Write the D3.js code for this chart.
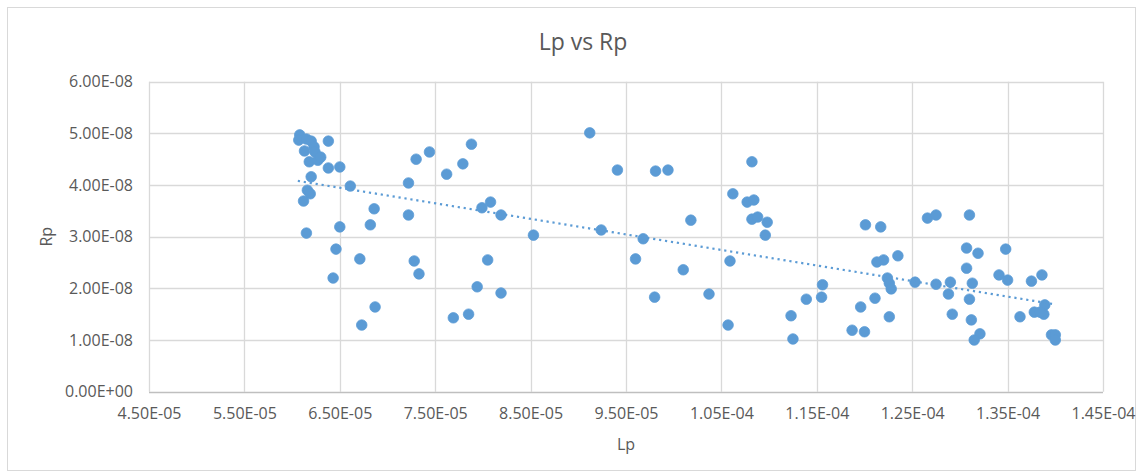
<!DOCTYPE html>
<html>
<head>
<meta charset="utf-8">
<script src="https://cdn.jsdelivr.net/npm/d3@7"></script>
<style>
  html, body { margin: 0; padding: 0; background: #fff; }
  svg { display: block; font-family: "Open Sans", "Liberation Sans", sans-serif; }
</style>
</head>
<body>
<svg id="chart" width="1143" height="474"></svg>
<script>
// Lp (H) measurements
const lp = [
  6.08e-5, 6.07e-5, 6.15e-5, 6.20e-5, 6.23e-5, 6.13e-5, 6.24e-5, 6.18e-5, 6.27e-5, 6.30e-5,
  6.38e-5, 6.38e-5, 6.50e-5, 6.20e-5, 6.61e-5, 6.16e-5, 6.19e-5, 6.12e-5, 6.15e-5, 6.50e-5,
  6.46e-5, 6.43e-5, 6.71e-5, 6.82e-5, 6.86e-5, 6.87e-5, 6.73e-5, 7.30e-5, 7.44e-5, 7.22e-5,
  7.22e-5, 7.28e-5, 7.33e-5, 7.62e-5, 7.79e-5, 7.88e-5, 7.99e-5, 8.08e-5, 8.19e-5, 8.05e-5,
  7.94e-5, 8.19e-5, 7.69e-5, 7.85e-5, 8.53e-5, 9.12e-5, 9.41e-5, 9.81e-5, 9.94e-5, 9.24e-5,
  9.68e-5, 9.60e-5, 10.18e-5, 10.10e-5, 9.80e-5, 10.37e-5, 10.57e-5, 10.59e-5, 10.62e-5, 10.82e-5,
  10.77e-5, 10.84e-5, 10.82e-5, 10.88e-5, 10.98e-5, 10.96e-5, 11.23e-5, 11.25e-5, 11.39e-5, 11.55e-5,
  11.56e-5, 12.01e-5, 12.17e-5, 11.96e-5, 11.87e-5, 12.00e-5, 12.11e-5, 12.13e-5, 12.20e-5, 12.35e-5,
  12.24e-5, 12.26e-5, 12.28e-5, 12.26e-5, 12.53e-5, 12.66e-5, 12.75e-5, 12.75e-5, 12.90e-5, 12.88e-5,
  12.92e-5, 13.07e-5, 13.19e-5, 13.07e-5, 13.13e-5, 13.10e-5, 13.12e-5, 13.21e-5, 13.15e-5, 13.10e-5,
  13.48e-5, 13.41e-5, 13.50e-5, 13.63e-5, 13.75e-5, 13.86e-5, 13.78e-5, 13.89e-5, 13.88e-5, 13.84e-5,
  13.96e-5, 14.00e-5, 14.00e-5
];

// Rp measurements, paired with lp by index
const rp = [
  4.97e-8, 4.87e-8, 4.89e-8, 4.85e-8, 4.74e-8, 4.66e-8, 4.64e-8, 4.45e-8, 4.48e-8, 4.54e-8,
  4.85e-8, 4.33e-8, 4.35e-8, 4.16e-8, 3.98e-8, 3.90e-8, 3.83e-8, 3.69e-8, 3.07e-8, 3.19e-8,
  2.76e-8, 2.20e-8, 2.57e-8, 3.23e-8, 3.54e-8, 1.64e-8, 1.29e-8, 4.50e-8, 4.64e-8, 4.04e-8,
  3.42e-8, 2.53e-8, 2.28e-8, 4.21e-8, 4.41e-8, 4.79e-8, 3.56e-8, 3.67e-8, 3.42e-8, 2.55e-8,
  2.03e-8, 1.91e-8, 1.43e-8, 1.50e-8, 3.03e-8, 5.01e-8, 4.29e-8, 4.27e-8, 4.29e-8, 3.13e-8,
  2.96e-8, 2.57e-8, 3.32e-8, 2.36e-8, 1.83e-8, 1.89e-8, 1.29e-8, 2.53e-8, 3.83e-8, 4.45e-8,
  3.67e-8, 3.71e-8, 3.34e-8, 3.38e-8, 3.28e-8, 3.03e-8, 1.47e-8, 1.02e-8, 1.79e-8, 1.83e-8,
  2.07e-8, 3.23e-8, 3.19e-8, 1.64e-8, 1.19e-8, 1.16e-8, 1.81e-8, 2.51e-8, 2.55e-8, 2.63e-8,
  2.20e-8, 2.10e-8, 1.99e-8, 1.45e-8, 2.12e-8, 3.36e-8, 3.42e-8, 2.08e-8, 2.12e-8, 1.89e-8,
  1.50e-8, 2.78e-8, 2.68e-8, 2.39e-8, 2.10e-8, 1.79e-8, 1.39e-8, 1.12e-8, 1.00e-8, 3.42e-8,
  2.76e-8, 2.26e-8, 2.16e-8, 1.45e-8, 2.14e-8, 2.26e-8, 1.54e-8, 1.68e-8, 1.50e-8, 1.54e-8,
  1.10e-8, 1.10e-8, 1.00e-8
];

// Linear trendline end points (Lp, Rp)
const trendLp = [6.06e-5, 1.40e-4];
const trendRp = [4.08e-8, 1.69e-8];

// Axis ticks
const xTicks = [4.5e-5, 5.5e-5, 6.5e-5, 7.5e-5, 8.5e-5, 9.5e-5, 1.05e-4, 1.15e-4, 1.25e-4, 1.35e-4, 1.45e-4];
const yTicks = [0, 1e-8, 2e-8, 3e-8, 4e-8, 5e-8, 6e-8];

const titleText = "Lp vs Rp";
const xTitle = "Lp";
const yTitle = "Rp";

// Spreadsheet-style scientific notation, e.g. 4.50E-05
function sci(v) {
  const [m, e] = v.toExponential(2).split("e");
  const n = parseInt(e, 10);
  const sign = n < 0 ? "-" : "+";
  return m + "E" + sign + String(Math.abs(n)).padStart(2, "0");
}

const svg = d3.select("#chart");
const W = 1143, H = 474;
const plot = { left: 149, right: 1103, top: 81.7, bottom: 391.7 };

const x = d3.scaleLinear().domain([xTicks[0], xTicks[xTicks.length - 1]]).range([plot.left, plot.right]);
const y = d3.scaleLinear().domain([yTicks[0], yTicks[yTicks.length - 1]]).range([plot.bottom, plot.top]);

const textColor = "#595959";
const gridColor = "#d9d9d9";
const blue = "#5b9bd5";

// Chart frame
svg.append("rect")
  .attr("x", 7.5).attr("y", 7.5)
  .attr("width", W - 15).attr("height", H - 11)
  .attr("fill", "#fff").attr("stroke", gridColor).attr("stroke-width", 1);

// Gridlines
const grid = svg.append("g");
grid.selectAll("line.v").data(xTicks).join("line")
  .attr("class", "v")
  .attr("x1", d => Math.round(x(d)) + 0.5).attr("x2", d => Math.round(x(d)) + 0.5)
  .attr("y1", plot.top).attr("y2", plot.bottom)
  .attr("stroke", gridColor).attr("stroke-width", 1.3);
grid.selectAll("line.h").data(yTicks).join("line")
  .attr("class", "h")
  .attr("x1", plot.left).attr("x2", plot.right)
  .attr("y1", d => Math.round(y(d)) + 0.5).attr("y2", d => Math.round(y(d)) + 0.5)
  .attr("stroke", d => d === 0 ? "#bfbfbf" : gridColor).attr("stroke-width", 1.3);

// Axes (labels only; lines come from the grid)
const xAxis = svg.append("g")
  .attr("transform", `translate(0,${plot.bottom})`)
  .call(d3.axisBottom(x).tickValues(xTicks).tickFormat(sci).tickSize(0).tickPadding(16));
const yAxis = svg.append("g")
  .attr("transform", `translate(${plot.left},0)`)
  .call(d3.axisLeft(y).tickValues(yTicks).tickFormat(sci).tickSize(0).tickPadding(16));
[xAxis, yAxis].forEach(g => {
  g.select(".domain").remove();
  g.selectAll("text")
    .attr("fill", textColor)
    .style("font-family", '"Open Sans", "Liberation Sans", sans-serif')
    .style("font-size", "16px");
});

// Points
svg.append("g").selectAll("circle")
  .data(d3.range(lp.length))
  .join("circle")
  .attr("cx", i => x(lp[i]))
  .attr("cy", i => y(rp[i]))
  .attr("r", 5.3)
  .attr("fill", blue)
  .attr("stroke", blue)
  .attr("stroke-width", 0.75);

// Dotted linear trendline
svg.append("line")
  .attr("x1", x(trendLp[0])).attr("y1", y(trendRp[0]))
  .attr("x2", x(trendLp[1])).attr("y2", y(trendRp[1]))
  .attr("stroke", blue)
  .attr("stroke-width", 2.2)
  .attr("stroke-dasharray", "2.2,3.8");

// Titles
svg.append("text")
  .attr("x", 583).attr("y", 50)
  .attr("text-anchor", "middle")
  .attr("fill", textColor)
  .style("font-size", "23px")
  .text(titleText);

svg.append("text")
  .attr("x", (plot.left + plot.right) / 2).attr("y", 450)
  .attr("text-anchor", "middle")
  .attr("fill", textColor)
  .style("font-size", "16px")
  .text(xTitle);

svg.append("text")
  .attr("transform", `translate(52,${(plot.top + plot.bottom) / 2}) rotate(-90)`)
  .attr("text-anchor", "middle")
  .attr("fill", textColor)
  .style("font-size", "16px")
  .text(yTitle);
</script>
</body>
</html>
